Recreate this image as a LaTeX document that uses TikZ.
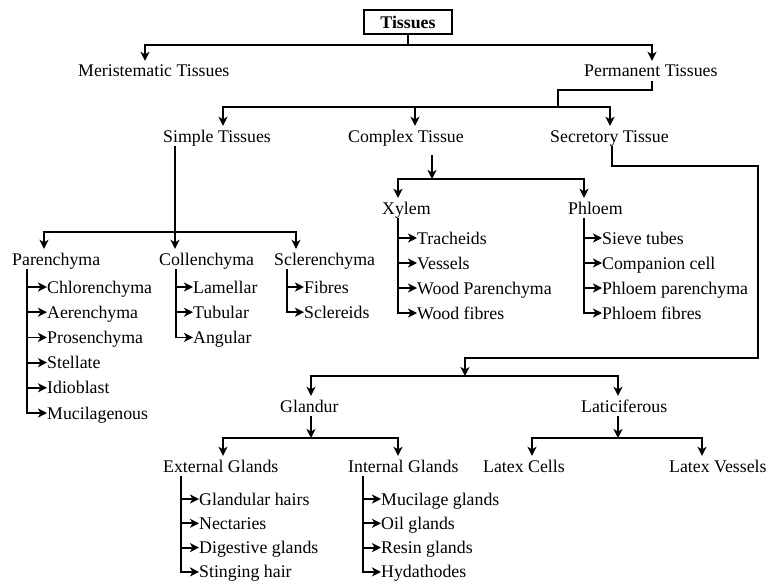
\documentclass[tikz,border=0pt]{standalone}
\usepackage{fontspec}
\setmainfont{Liberation Serif}
\usetikzlibrary{arrows.meta}
\tikzset{
  every node/.style={font=\fontsize{17.8}{20}\selectfont},
  term/.style={inner sep=0pt, text height=16pt, text depth=4pt, anchor=base west},
  rootbox/.style={
    draw,
    line width=1.5pt,
    minimum width=88pt,
    minimum height=24pt,
    inner sep=0pt,
    font=\fontsize{17.8}{20}\selectfont\bfseries
  },
  bar/.style={line width=1.8pt},
  link/.style={
    -{Stealth[length=9pt,width=9pt,inset=2.5pt]},
    line width=1.8pt
  }
}

\begin{document}
\begin{tikzpicture}[x=1pt,y=-1pt]
  \useasboundingbox (0,0) rectangle (767,583);
  \def\gap{25.2}

  \node[rootbox] (tissues) at (408,22) {Tissues};
  \node[term] (merist) at (78,77) {Meristematic Tissues};
  \node[term] (perm) at (584,77) {Permanent Tissues};
  \node[term] (simple) at (163,142) {Simple Tissues};
  \node[term] (complex) at (348,142) {Complex Tissue};
  \node[term] (secret) at (550,142) {Secretory Tissue};
  \node[term] (xylem) at (382,214) {Xylem};
  \node[term] (phloem) at (568,214) {Phloem};
  \node[term] (paren) at (12,265) {Parenchyma};
  \node[term] (collen) at (159,265) {Collenchyma};
  \node[term] (scleren) at (274,265) {Sclerenchyma};
  \node[term] (glandur) at (280,412) {Glandur};
  \node[term] (latic) at (581,412) {Laticiferous};
  \node[term] (external) at (163,472) {External Glands};
  \node[term] (internal) at (348,472) {Internal Glands};
  \node[term] (lcells) at (483,472) {Latex Cells};
  \node[term] (lvessels) at (669,472) {Latex Vessels};

  \draw[link] (tissues.south) -- ++(0,10) -| (merist.north -| 145,0);
  \draw[link] (tissues.south) -- ++(0,10) -| (perm.north -| 652,0);

  \draw[bar] (perm.south -| 652,0) -- ++(0,9) -| (558,107) coordinate (jp);
  \draw[link] (jp) -| (simple.north -| 223,0);
  \draw[link] (jp) -| (complex.north -| 415,0);
  \draw[link] (jp) -| (secret.north -| 610,0);

  \coordinate (js) at (175,232);
  \draw[bar] (simple.south -| js) -- (js);
  \draw[link] (js) -| (paren.north -| 44,0);
  \draw[link] (js) -- (collen.north -| js);
  \draw[link] (js) -| (scleren.north -| 296,0);

  \coordinate (jc) at (432,179);
  \draw[link] (complex.south -| jc) ++(0,9) -- (jc);
  \draw[link] (jc) -| (xylem.north -| 398,0);
  \draw[link] (jc) -| (phloem.north -| 584,0);

  \coordinate (jt) at (465,376);
  \draw[link] (secret.south -| 612,0) |- (758,166) |- (465,358) -- (jt);
  \draw[link] (jt) -| (glandur.north -| 311,0);
  \draw[link] (jt) -| (latic.north -| 618,0);

  \coordinate (jg) at (311,438);
  \draw[link] (glandur.south -| jg) -- (jg);
  \draw[link] (jg) -| (external.north -| 223,0);
  \draw[link] (jg) -| (internal.north -| 398,0);

  \coordinate (jl) at (618,438);
  \draw[link] (latic.south -| jl) -- (jl);
  \draw[link] (jl) -| (lcells.north -| 532,0);
  \draw[link] (jl) -| (lvessels.north -| 702,0);

  \foreach \lab [count=\k] in {Chlorenchyma, Aerenchyma, Prosenchyma, Stellate, Idioblast, Mucilagenous}{
    \node[term] (pa\k) at (47,{293+(\k-1)*\gap}) {\lab};
    \draw[link] (paren.south -| 27,0) |- (pa\k.west);
  }
  \foreach \lab [count=\k] in {Lamellar, Tubular, Angular}{
    \node[term] (co\k) at (193,{293+(\k-1)*\gap}) {\lab};
    \draw[link] (collen.south -| 176,0) |- (co\k.west);
  }
  \foreach \lab [count=\k] in {Fibres, Sclereids}{
    \node[term] (sc\k) at (304,{293+(\k-1)*\gap}) {\lab};
    \draw[link] (scleren.south -| 287,0) |- (sc\k.west);
  }
  \foreach \lab [count=\k] in {Tracheids, Vessels, Wood Parenchyma, Wood fibres}{
    \node[term] (xy\k) at (417,{244+(\k-1)*25}) {\lab};
    \draw[link] (xylem.south -| 398,0) |- (xy\k.west);
  }
  \foreach \lab [count=\k] in {Sieve tubes, Companion cell, Phloem parenchyma, Phloem fibres}{
    \node[term] (ph\k) at (602,{244+(\k-1)*25}) {\lab};
    \draw[link] (phloem.south -| 584,0) |- (ph\k.west);
  }
  \foreach \lab [count=\k] in {Glandular hairs, Nectaries, Digestive glands, Stinging hair}{
    \node[term] (ex\k) at (199,{505+(\k-1)*24.3}) {\lab};
    \draw[link] (external.south -| 181,0) |- (ex\k.west);
  }
  \foreach \lab [count=\k] in {Mucilage glands, Oil glands, Resin glands, Hydathodes}{
    \node[term] (in\k) at (381,{505+(\k-1)*24.3}) {\lab};
    \draw[link] (internal.south -| 363,0) |- (in\k.west);
  }
\end{tikzpicture}
\end{document}
